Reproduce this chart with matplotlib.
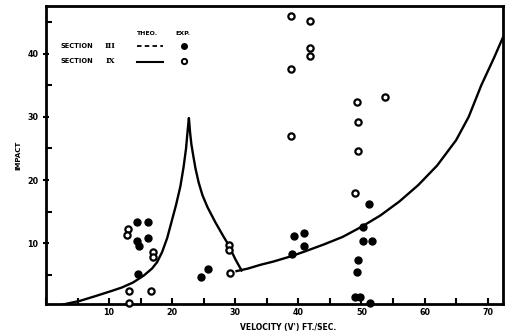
import matplotlib
matplotlib.use("Agg")
import matplotlib.pyplot as plt
from matplotlib.ticker import MultipleLocator

# theoretical curve, section IX
theo_peak_x = [2.6, 5.4, 8.0, 10.2, 12.0, 13.8, 15.5, 16.8, 17.6, 18.4, 19.2, 19.9, 20.6,
               21.3, 21.8, 22.2, 22.45, 22.65, 22.85, 23.05, 23.35, 23.7, 24.2, 24.8,
               25.6, 26.8, 28.0, 28.9, 30.0, 31.0]
theo_peak_y = [0.3, 0.9, 1.7, 2.4, 3.0, 3.8, 4.9, 6.0, 7.0, 8.6, 10.8, 13.4, 16.0,
               19.0, 22.0, 25.0, 27.8, 29.8, 27.4, 25.6, 23.8, 21.8, 19.6, 17.6,
               15.7, 13.4, 11.3, 9.8, 7.5, 5.7]
theo_high_x = [30.2, 32.0, 34.0, 36.0, 38.7, 41.0, 44.0, 47.0, 50.0, 53.0, 56.0, 59.0,
               62.0, 65.0, 67.0, 69.0, 71.0, 72.4]
theo_high_y = [5.6, 6.0, 6.6, 7.1, 7.9, 8.7, 9.8, 11.0, 12.6, 14.4, 16.6, 19.2,
               22.3, 26.3, 30.0, 35.0, 39.3, 42.5]

# experimental points, section III (filled)
exp3_x = [14.5, 16.1, 14.5, 14.8, 16.1, 14.6, 24.5, 25.6, 39.3, 40.9, 40.9, 39.0,
          51.2, 50.2, 50.2, 51.6, 49.4, 49.3, 49.0, 49.8, 51.3]
exp3_y = [13.3, 13.4, 10.4, 9.5, 10.8, 5.1, 4.7, 5.9, 11.2, 11.7, 9.5, 8.3,
          16.2, 12.5, 10.4, 10.4, 7.4, 5.4, 1.5, 1.5, 0.5]

# experimental points, section IX (open)
exp9_x = [13.0, 12.9, 17.0, 17.0, 13.2, 16.6, 13.2, 29.0, 29.0, 29.1,
          38.9, 41.9, 41.9, 41.9, 38.9, 49.3, 53.8, 49.5, 38.9, 49.5, 49.0]
exp9_y = [12.2, 11.3, 8.6, 7.8, 2.5, 2.5, 0.6, 9.8, 9.0, 5.3,
          45.9, 45.1, 40.9, 39.6, 37.5, 32.3, 33.2, 29.2, 27.0, 24.6, 17.9]

x_ticks = [10, 20, 30, 40, 50, 60, 70]
y_ticks = [10, 20, 30, 40]

FONT = dict(fontfamily="DejaVu Sans", fontweight="bold")


def main():
    fig = plt.figure(figsize=(5.07, 3.34), dpi=100)
    ax = fig.add_axes([0.0907, 0.0898, 0.901, 0.892])

    ax.plot(theo_peak_x, theo_peak_y, color="black", lw=1.7)
    ax.plot(theo_high_x, theo_high_y, color="black", lw=1.7)
    ax.plot(exp3_x, exp3_y, "o", color="black", ms=5, clip_on=False, zorder=3)
    ax.plot(exp9_x, exp9_y, "o", mfc="white", mec="black", mew=1.6, ms=4.5,
            clip_on=False, zorder=3)

    ax.set_xlim(0, 72.4)
    ax.set_ylim(0.4, 47.5)
    ax.set_xticks(x_ticks)
    ax.set_yticks(y_ticks)
    ax.xaxis.set_minor_locator(MultipleLocator(5))
    ax.yaxis.set_minor_locator(MultipleLocator(5))
    ax.tick_params(which="both", direction="in", width=1.5, length=4, pad=3)
    ax.tick_params(axis="y", which="major", direction="inout", length=5)
    for lab in ax.get_xticklabels() + ax.get_yticklabels():
        lab.set_fontsize(5.8)
        lab.set_fontweight("bold")
    for sp in ax.spines.values():
        sp.set_linewidth(2)

    ax.set_xlabel("VELOCITY (V') FT./SEC.", fontsize=5.5, labelpad=4, x=0.53, **FONT)
    ax.set_ylabel("IMPACT", fontsize=5, labelpad=4, **FONT)

    # hand-drawn legend block
    t = ax.transAxes
    ax.text(0.220, 0.909, "THEO.", fontsize=4.5, ha="center", va="center", transform=t, **FONT)
    ax.text(0.300, 0.909, "EXP.", fontsize=4.5, ha="center", va="center", transform=t, **FONT)
    for row_y, num in [(0.866, "III"), (0.817, "IX")]:
        ax.text(0.031, row_y, "SECTION", fontsize=4.8, ha="left", va="center", transform=t, **FONT)
        ax.text(0.140, row_y, num, fontsize=5.5, ha="center", va="center", transform=t,
                fontfamily="DejaVu Serif", fontweight="bold")
    ax.plot([0.199, 0.256], [0.867, 0.867], ls=(0, (2.5, 1.8)), color="black", lw=1.3, transform=t)
    ax.plot([0.199, 0.256], [0.812, 0.812], color="black", lw=1.5, transform=t)
    ax.plot([0.303], [0.866], "o", color="black", ms=4, transform=t)
    ax.plot([0.303], [0.817], "o", mfc="white", mec="black", mew=1.4, ms=3.8, transform=t)

    fig.savefig("out.png", dpi=100)


if __name__ == "__main__":
    main()
